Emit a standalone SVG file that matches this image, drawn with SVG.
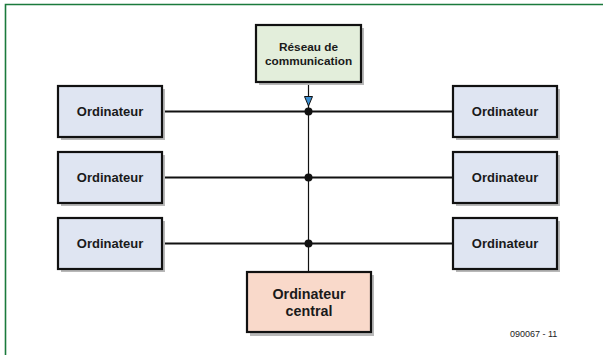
<svg xmlns="http://www.w3.org/2000/svg" width="603" height="355" viewBox="0 0 603 355">
<style>
.box{stroke:#111;stroke-width:2.2}
.pc{fill:#dfe5f2}
.shadow{fill:#b8b8b8}
.t{font-family:"Liberation Sans",Arial,sans-serif;font-weight:bold;font-size:13px;fill:#1a1a1a;text-anchor:middle}
.bus{stroke:#111;stroke-width:2.2;fill:none}
.thin{stroke:#111;stroke-width:1.2;fill:none}
</style>
<rect width="603" height="355" fill="#fff"/>
<path d="M5.5 355 V4.5 H603" fill="none" stroke="#1b7a3c" stroke-width="1.6"/>
<g id="connectors">
<line class="bus" x1="162" y1="111.5" x2="453" y2="111.5"/>
<line class="bus" x1="162" y1="177.5" x2="453" y2="177.5"/>
<line class="bus" x1="162" y1="243.5" x2="453" y2="243.5"/>
<line class="thin" x1="308.5" y1="82" x2="308.5" y2="272"/>
<polygon points="304.5,96.5 312.5,96.5 308.5,106" fill="#3b8fd2" stroke="#111" stroke-width="1"/>
<circle cx="308.5" cy="111.5" r="4" fill="#111"/>
<circle cx="308.5" cy="177.5" r="4" fill="#111"/>
<circle cx="308.5" cy="243.5" r="4" fill="#111"/>
</g>
<g id="reseau">
<rect class="shadow" x="259" y="28" width="105" height="57"/>
<rect class="box" x="256" y="25" width="105" height="57" fill="#e3eedb"/>
<text class="t" x="308.5" y="50.5" style="font-size:11.8px">Réseau de</text>
<text class="t" x="308.5" y="64.5" style="font-size:11.8px">communication</text>
</g>
<g id="pc-l1">
<rect class="shadow" x="61" y="89" width="104" height="51"/>
<rect class="box pc" x="58" y="86" width="104" height="51"/>
<text class="t" x="110" y="116">Ordinateur</text>
</g>
<g id="pc-l2">
<rect class="shadow" x="61" y="155" width="104" height="51"/>
<rect class="box pc" x="58" y="152" width="104" height="51"/>
<text class="t" x="110" y="182">Ordinateur</text>
</g>
<g id="pc-l3">
<rect class="shadow" x="61" y="221" width="104" height="51"/>
<rect class="box pc" x="58" y="218" width="104" height="51"/>
<text class="t" x="110" y="248">Ordinateur</text>
</g>
<g id="pc-r1">
<rect class="shadow" x="456" y="89" width="104" height="51"/>
<rect class="box pc" x="453" y="86" width="104" height="51"/>
<text class="t" x="505" y="116">Ordinateur</text>
</g>
<g id="pc-r2">
<rect class="shadow" x="456" y="155" width="104" height="51"/>
<rect class="box pc" x="453" y="152" width="104" height="51"/>
<text class="t" x="505" y="182">Ordinateur</text>
</g>
<g id="pc-r3">
<rect class="shadow" x="456" y="221" width="104" height="51"/>
<rect class="box pc" x="453" y="218" width="104" height="51"/>
<text class="t" x="505" y="248">Ordinateur</text>
</g>
<g id="central">
<rect class="shadow" x="250" y="275" width="124" height="61"/>
<rect class="box" x="247" y="272" width="124" height="60" fill="#f9d9ca"/>
<text class="t" x="309" y="298.5" style="font-size:14.3px">Ordinateur</text>
<text class="t" x="309" y="315.5" style="font-size:14.3px">central</text>
</g>
<text x="510" y="337" font-family="'Liberation Sans',Arial,sans-serif" font-size="9" fill="#222">090067 - 11</text>
</svg>
